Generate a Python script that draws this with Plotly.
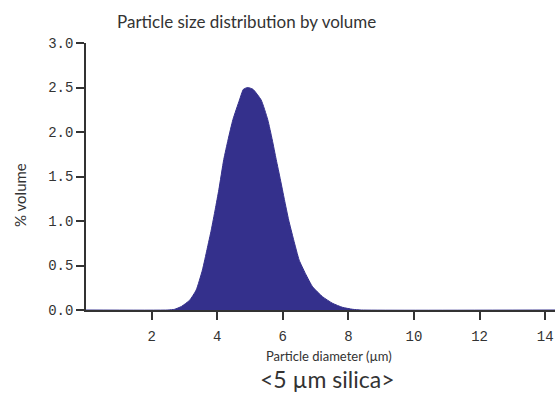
import plotly.graph_objects as go

# Volume distribution of particle diameters (µm vs % volume)
diameter_um = [0.0, 2.5, 2.70, 2.91, 3.16, 3.36, 3.55, 3.69, 3.82, 3.94, 4.05, 4.20,
               4.33, 4.48, 4.68, 4.80, 4.93, 5.09, 5.34, 5.54, 5.68, 5.80, 5.93, 6.05,
               6.18, 6.33, 6.50, 6.69, 6.91, 7.21, 7.52, 7.82, 8.13, 8.4, 14.3]
volume_pct = [0.0, 0.0, 0.008, 0.04, 0.11, 0.225, 0.45, 0.68, 0.90, 1.13, 1.35, 1.69,
              1.91, 2.14, 2.36, 2.48, 2.50, 2.48, 2.36, 2.14, 1.91, 1.69, 1.46, 1.24,
              1.01, 0.79, 0.56, 0.41, 0.26, 0.15, 0.075, 0.03, 0.008, 0.0, 0.0]

x_ticks = [2, 4, 6, 8, 10, 12, 14]
y_ticks = [0.0, 0.5, 1.0, 1.5, 2.0, 2.5, 3.0]

fill_color = "#34308c"
ink = "#333333"
label_font = "Lato, Liberation Sans, sans-serif"

fig = go.Figure()
fig.add_trace(go.Scatter(
    x=diameter_um, y=volume_pct, mode="lines", fill="tozeroy",
    line=dict(color=fill_color, width=1, shape="spline", smoothing=0.5),
    fillcolor=fill_color, hoverinfo="skip", showlegend=False,
))

axis_common = dict(
    showline=True, linecolor=ink, linewidth=1.5, ticks="outside", ticklen=8,
    tickwidth=1.5, tickcolor=ink, showgrid=False, zeroline=False,
    tickfont=dict(family="Liberation Mono, DejaVu Sans Mono, monospace", size=14, color=ink),
)

fig.update_layout(
    width=555, height=417,
    margin=dict(l=86, r=0, t=43, b=107),
    paper_bgcolor="white", plot_bgcolor="white",
    xaxis=dict(range=[0, 14.3], tickvals=x_ticks, ticktext=[str(v) for v in x_ticks],
               ticklabelstandoff=4, **axis_common),
    yaxis=dict(range=[0, 3.0], tickvals=y_ticks, ticktext=[f"{v:.1f}" for v in y_ticks],
               **axis_common),
    annotations=[
        dict(text="Particle size distribution by volume", xref="paper", yref="paper",
             x=0.342, y=1.082, xanchor="center", yanchor="middle", showarrow=False,
             font=dict(family=label_font, size=17, color=ink)),
        dict(text="% volume", xref="paper", yref="paper", x=-0.1407, y=0.431,
             xanchor="center", yanchor="middle", textangle=-90, showarrow=False,
             font=dict(family=label_font, size=15, color=ink)),
        dict(text="Particle diameter (µm)", xref="paper", yref="paper", x=0.518, y=-0.1735,
             xanchor="center", yanchor="middle", showarrow=False,
             font=dict(family=label_font, size=13, color=ink)),
        dict(text="&lt;5 µm silica&gt;", xref="paper", yref="paper", x=0.514, y=-0.258,
             xanchor="center", yanchor="middle", showarrow=False,
             font=dict(family=label_font, size=23, color=ink)),
    ],
)

fig.write_html("out.html")
